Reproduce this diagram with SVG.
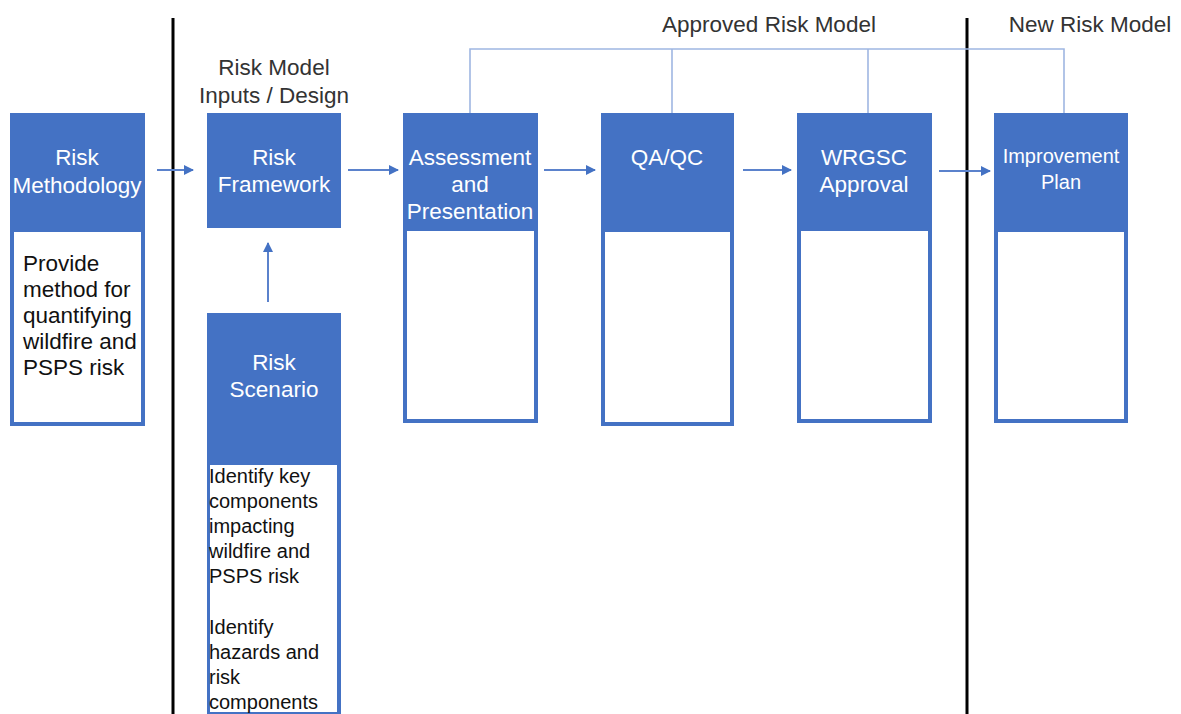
<svg xmlns="http://www.w3.org/2000/svg" width="1181" height="714" viewBox="0 0 1181 714">
<style>
.box{fill:#4472c4}
.body{fill:#ffffff}
.ht{font-family:"Liberation Sans",Arial,sans-serif;font-size:22.5px;fill:#ffffff;text-anchor:middle}
.bt{font-family:"Liberation Sans",Arial,sans-serif;font-size:22.5px;fill:#111111}
.st{font-family:"Liberation Sans",Arial,sans-serif;font-size:20px;fill:#111111}
.lbl{font-family:"Liberation Sans",Arial,sans-serif;font-size:22.5px;fill:#333333;text-anchor:middle}
.arr{stroke:#5b82cc;stroke-width:2;fill:none;marker-end:url(#ah)}
.fb{stroke:#9fb6e2;stroke-width:1.6;fill:none}
.sep{stroke:#000000;stroke-width:3}
</style>
<defs>
<marker id="ah" markerWidth="10" markerHeight="10" refX="9" refY="5" orient="auto" markerUnits="userSpaceOnUse">
<path d="M0,0 L10,5 L0,10 Z" fill="#4472c4"/>
</marker>
</defs>
<rect width="1181" height="714" fill="#ffffff"/>
<g id="separators">
<line class="sep" x1="173" y1="18" x2="173" y2="714"/>
<line class="sep" x1="967" y1="18" x2="967" y2="714"/>
</g>
<g id="labels">
<text class="lbl" x="274" y="75">Risk Model</text>
<text class="lbl" x="274" y="103">Inputs / Design</text>
<text class="lbl" x="769" y="32">Approved Risk Model</text>
<text class="lbl" x="1090" y="32">New Risk Model</text>
</g>
<g id="connectors">
<polyline class="fb" points="470,113 470,49 1064,49 1064,113"/>
<line class="fb" x1="672" y1="49" x2="672" y2="113"/>
<line class="fb" x1="868" y1="49" x2="868" y2="113"/>
<line class="arr" x1="157" y1="170" x2="193" y2="170"/>
<line class="arr" x1="348" y1="170" x2="398" y2="170"/>
<line class="arr" x1="544" y1="170" x2="595" y2="170"/>
<line class="arr" x1="743" y1="170" x2="791" y2="170"/>
<line class="arr" x1="939" y1="171" x2="990" y2="171"/>
<line class="arr" x1="268" y1="302" x2="268" y2="243"/>
</g>
<g id="risk-methodology">
<rect class="box" x="10" y="113" width="135" height="313"/>
<rect class="body" x="14" y="232" width="127" height="190"/>
<text class="ht" x="77" y="165">Risk</text>
<text class="ht" x="77" y="193">Methodology</text>
<text class="bt" x="23" y="271">Provide</text>
<text class="bt" x="23" y="297">method for</text>
<text class="bt" x="23" y="323">quantifying</text>
<text class="bt" x="23" y="349">wildfire and</text>
<text class="bt" x="23" y="375">PSPS risk</text>
</g>
<g id="risk-framework">
<rect class="box" x="207" y="113" width="134" height="115"/>
<text class="ht" x="274" y="165">Risk</text>
<text class="ht" x="274" y="192">Framework</text>
</g>
<g id="risk-scenario">
<rect class="box" x="207" y="313" width="134" height="405"/>
<rect class="body" x="210" y="465" width="127" height="247"/>
<text class="ht" x="274" y="370">Risk</text>
<text class="ht" x="274" y="397">Scenario</text>
<text class="st" x="209" y="483">Identify key</text>
<text class="st" x="209" y="508">components</text>
<text class="st" x="209" y="533">impacting</text>
<text class="st" x="209" y="558">wildfire and</text>
<text class="st" x="209" y="583">PSPS risk</text>
<text class="st" x="209" y="634">Identify</text>
<text class="st" x="209" y="659">hazards and</text>
<text class="st" x="209" y="684">risk</text>
<text class="st" x="209" y="709">components</text>
</g>
<g id="assessment">
<rect class="box" x="403" y="113" width="135" height="310"/>
<rect class="body" x="407" y="231" width="127" height="188"/>
<text class="ht" x="470" y="165">Assessment</text>
<text class="ht" x="470" y="192">and</text>
<text class="ht" x="470" y="219">Presentation</text>
</g>
<g id="qa-qc">
<rect class="box" x="601" y="113" width="133" height="313"/>
<rect class="body" x="605" y="232" width="125" height="190"/>
<text class="ht" x="667" y="165">QA/QC</text>
</g>
<g id="wrgsc-approval">
<rect class="box" x="797" y="113" width="135" height="310"/>
<rect class="body" x="801" y="231" width="127" height="188"/>
<text class="ht" x="864" y="165">WRGSC</text>
<text class="ht" x="864" y="192">Approval</text>
</g>
<g id="improvement-plan">
<rect class="box" x="994" y="113" width="134" height="310"/>
<rect class="body" x="998" y="232" width="126" height="187"/>
<text class="ht" x="1061" y="163" style="font-size:20px">Improvement</text>
<text class="ht" x="1061" y="189" style="font-size:20px">Plan</text>
</g>
</svg>
